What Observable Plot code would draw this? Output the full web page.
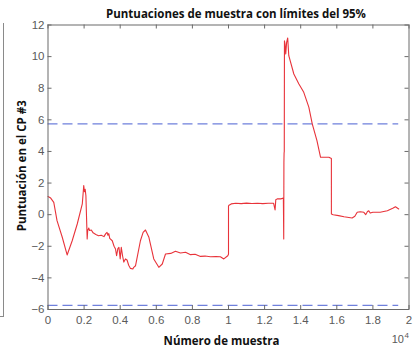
<!DOCTYPE html>
<html>
<head>
<meta charset="utf-8">
<script src="https://cdn.jsdelivr.net/npm/d3@7"></script>
<script src="https://cdn.jsdelivr.net/npm/@observablehq/plot@0.6"></script>
<style>
  html, body { margin: 0; padding: 0; background: #fff; }
  #wrap { position: relative; width: 413px; height: 350px; }
  #neighbor { position: absolute; left: 0; top: 23px; width: 3px; height: 293px;
              border-right: 1px solid #8a8a8a; border-bottom: 1px solid #8a8a8a; }
</style>
</head>
<body>
<div id="wrap"><div id="neighbor"></div></div>
<script>
const sampleN = [0,150,320,500,790,1060,1340,1620,1900,1980,2020,2060,2100,2170,2200,2260,2300,2400,2500,2650,2800,2950,3100,3200,3270,3320,3370,3420,3560,3660,3740,3800,3870,3930,4000,4060,4130,4200,4290,4380,4470,4570,4700,4750,4850,4940,5120,5270,5400,5590,5860,6140,6330,6510,6800,7060,7340,7620,7900,8150,8450,8700,9000,9300,9550,9740,9960,10000,10000,10030,10150,10400,10700,11000,11300,11600,11900,12200,12500,12580,12620,12700,12900,13040,13060,13070,13080,13090,13100,13130,13170,13220,13280,13340,13620,13900,14170,14450,14640,14900,15100,15560,15700,15700,15800,16100,16400,16850,17000,17130,17300,17500,17600,17700,17770,17850,18000,18400,18800,19100,19250,19430];
const score = [1.15,1.05,0.78,-0.38,-1.43,-2.55,-1.65,-0.59,0.68,1.84,1.45,1.6,1.2,-1.54,-1.0,-0.85,-1.0,-0.97,-1.15,-1.25,-1.33,-1.3,-1.39,-1.2,-1.12,-1.3,-1.2,-1.5,-1.65,-2.0,-2.17,-2.6,-2.15,-2.07,-2.8,-2.07,-2.6,-3.0,-2.8,-2.87,-3.2,-3.4,-3.44,-3.33,-3.23,-2.7,-1.65,-1.12,-0.97,-1.43,-2.8,-3.33,-3.12,-2.49,-2.45,-2.32,-2.43,-2.38,-2.53,-2.5,-2.64,-2.62,-2.66,-2.65,-2.66,-2.8,-2.6,-2.5,0.55,0.6,0.68,0.72,0.7,0.73,0.71,0.72,0.7,0.72,0.72,0.3,0.95,1.0,1.0,1.05,-1.54,3.3,3.9,4.0,11.0,10.8,10.17,10.9,11.18,10.06,8.9,8.27,7.74,6.8,5.74,4.68,3.63,3.63,3.55,0.04,0.0,-0.06,-0.13,-0.21,-0.1,0.15,0.18,0.15,0.0,0.2,0.25,0.1,0.15,0.15,0.25,0.4,0.5,0.36];

const limitValues = [5.74, -5.74];
const limitStart = 0;
const limitEnd = 19430;

const xTicks = [0,2000,4000,6000,8000,10000,12000,14000,16000,18000,20000];
const xTickLabels = ["0","0.2","0.4","0.6","0.8","1","1.2","1.4","1.6","1.8","2"];
const yTicks = [-6,-4,-2,0,2,4,6,8,10,12];

const titleText = "Puntuaciones de muestra con límites del 95%";
const xLabel = "Número de muestra";
const yLabel = "Puntuación en el CP #3";
const expBase = "10";
const expPower = "4";

const series = sampleN.map((n, i) => ({n, s: score[i]}));
const limits = limitValues.map(v => ({v, x1: limitStart, x2: limitEnd}));

const W = 413, H = 350, mL = 47.5, mR = 4.5, mT = 24.5, mB = 41;
const fw = W - mL - mR, fh = H - mT - mB;
const axisColor = "#5a5a5a";
const tick = 4;

const chart = Plot.plot({
  width: W, height: H,
  marginLeft: mL, marginRight: mR, marginTop: mT, marginBottom: mB,
  style: {fontFamily: "'Liberation Sans', Arial, sans-serif", fontSize: "11px", color: axisColor, background: "transparent"},
  x: {domain: [0, 20000]},
  y: {domain: [-6, 12]},
  marks: [
    Plot.ruleY(limits, {y: "v", x1: "x1", x2: "x2", stroke: "#6f80dc", strokeWidth: 1.2, strokeDasharray: "10,5"}),
    Plot.line(series, {x: "n", y: "s", stroke: "#e8333a", strokeWidth: 1.1}),
    Plot.frame({stroke: "#6a6a6a"}),
    Plot.tickY(yTicks, {y: d => d, insetRight: fw - tick, stroke: "#6a6a6a"}),
    Plot.tickY(yTicks, {y: d => d, insetLeft: fw - tick, stroke: "#6a6a6a"}),
    Plot.tickX(xTicks, {x: d => d, insetTop: fh - tick, stroke: "#6a6a6a"}),
    Plot.tickX(xTicks, {x: d => d, insetBottom: fh - tick, stroke: "#6a6a6a"}),
    Plot.axisY(yTicks, {tickSize: 0, tickPadding: 3.5, label: null, fill: axisColor, fontSize: 11.5}),
    Plot.axisX(xTicks, {tickSize: 0, tickPadding: 6, label: null, fill: axisColor, fontSize: 11.5, tickFormat: (d) => xTickLabels[xTicks.indexOf(d)]}),
    Plot.text([titleText], {frameAnchor: "top", dx: 7.5, dy: -10.5, lineAnchor: "middle", fontWeight: "bold", fontSize: 11.5, fontFamily: "'Open Sans', sans-serif", fill: "#111"}),
    Plot.text([xLabel], {frameAnchor: "bottom", dx: -7, dy: 32, lineAnchor: "middle", fontWeight: "bold", fontSize: 11.5, fontFamily: "'Open Sans', sans-serif", fill: "#111"}),
    Plot.text([yLabel], {frameAnchor: "left", dx: -25.5, dy: -1.5, rotate: -90, lineAnchor: "middle", textAnchor: "middle", fontWeight: "bold", fontSize: 11.5, fontFamily: "'Open Sans', sans-serif", fill: "#111"}),
    Plot.text([expBase], {frameAnchor: "bottom-right", dx: -5, dy: 30, textAnchor: "end", lineAnchor: "middle", fontSize: 11, fill: axisColor}),
    Plot.text([expPower], {frameAnchor: "bottom-right", dx: 0, dy: 25.5, textAnchor: "end", lineAnchor: "middle", fontSize: 8, fill: axisColor})
  ]
});
document.getElementById("wrap").appendChild(chart);
chart.style.position = "absolute";
chart.style.left = "0";
chart.style.top = "0";
</script>
</body>
</html>
